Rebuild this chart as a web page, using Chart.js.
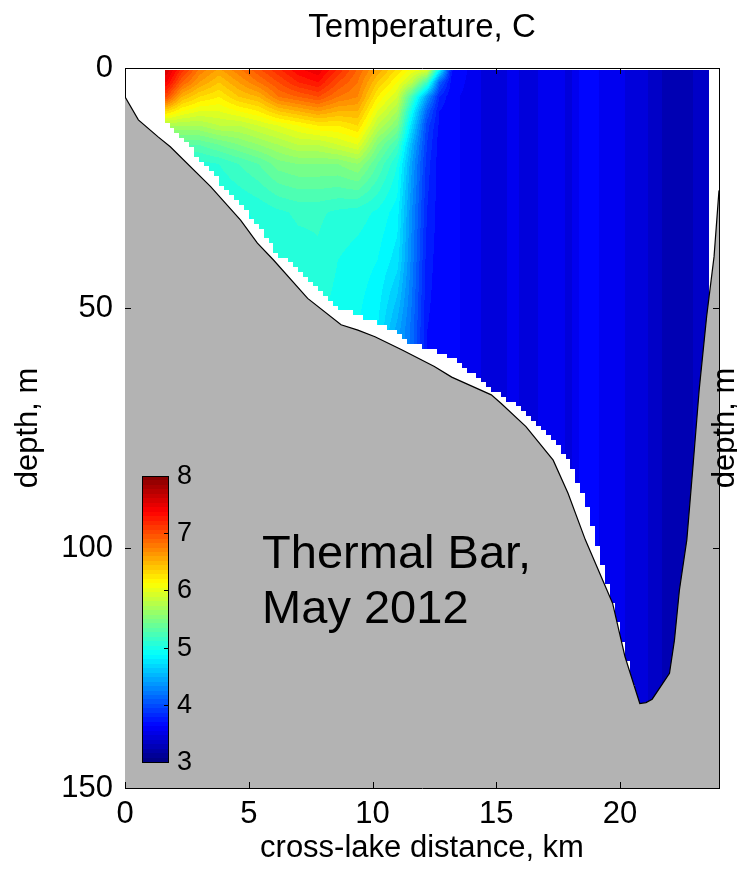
<!DOCTYPE html>
<html>
<head>
<meta charset="utf-8">
<title>Temperature, C</title>
<script src="https://cdn.jsdelivr.net/npm/chart.js@4.4.1/dist/chart.umd.min.js"></script>
<style>
  html, body { margin: 0; padding: 0; background: #fff; }
  #wrap { width: 737px; height: 875px; }
</style>
</head>
<body>
<div id="wrap"><canvas id="ct-chart" width="737" height="875"></canvas></div>
<script>
// CTD stations along the transect (km) and the depths each profile is given at (m)
var stationKm = [1.7, 2.3, 3.0, 3.8, 4.6, 5.4, 6.2, 7.0, 7.8, 8.6, 9.4, 10.2, 11.0, 11.6, 12.2,
  12.7, 13.2, 14.0, 14.8, 15.6, 16.4, 17.2, 18.0, 18.6, 19.4, 20.2, 21.0, 21.8, 22.6, 23.6];
var depthLevels = [0, 3, 6, 9, 12, 16, 20, 30, 40, 55, 80, 110, 135];

// deepest sample of each cast (m)
var castDepth = [11, 14, 19, 23.5, 28, 33, 39, 41.5, 46, 50, 51.5, 53, 55, 57.5, 58.3,
  59, 60.5, 63.5, 67, 69.5, 73, 76.5, 82.5, 90, 105, 121, 140, 140, 140, 140];

// temperature (C), one row per station, one value per depth level
var tempProfiles = [
  [7.6, 7.4, 7.0, 6.3, 5.7, 5.3, 5.05, 4.95, 4.95, 4.95, 4.95, 4.95, 4.95],
  [7.2, 6.9, 6.5, 6.1, 5.7, 5.3, 5.0, 4.9, 4.9, 4.9, 4.9, 4.9, 4.9],
  [6.8, 6.6, 6.3, 6.0, 5.7, 5.3, 5.05, 4.92, 4.9, 4.9, 4.9, 4.9, 4.9],
  [6.6, 6.4, 6.2, 6.0, 5.8, 5.4, 5.1, 4.95, 4.92, 4.92, 4.92, 4.92, 4.92],
  [6.8, 6.6, 6.4, 6.1, 5.8, 5.5, 5.2, 4.98, 4.95, 4.95, 4.95, 4.95, 4.95],
  [7.0, 6.8, 6.5, 6.2, 5.9, 5.6, 5.3, 5.02, 4.97, 4.95, 4.95, 4.95, 4.95],
  [7.2, 7.0, 6.8, 6.4, 6.0, 5.7, 5.45, 5.08, 5.0, 4.97, 4.97, 4.97, 4.97],
  [7.4, 7.2, 6.9, 6.5, 6.1, 5.8, 5.5, 5.12, 5.05, 4.98, 4.98, 4.98, 4.98],
  [7.5, 7.3, 7.0, 6.6, 6.2, 5.8, 5.5, 5.12, 5.08, 5.0, 5.0, 5.0, 5.0],
  [7.2, 7.0, 6.8, 6.5, 6.2, 5.9, 5.5, 5.08, 5.0, 4.95, 4.95, 4.95, 4.95],
  [6.9, 6.8, 6.7, 6.5, 6.3, 6.0, 5.6, 5.05, 4.95, 4.9, 4.9, 4.9, 4.9],
  [6.6, 6.4, 6.2, 6.0, 5.8, 5.5, 5.3, 4.98, 4.9, 4.8, 4.8, 4.8, 4.8],
  [6.3, 6.1, 5.9, 5.7, 5.5, 5.2, 5.0, 4.85, 4.75, 4.45, 4.45, 4.45, 4.45],
  [6.1, 5.8, 5.2, 4.9, 4.7, 4.5, 4.4, 4.3, 4.25, 4.15, 4.15, 4.15, 4.15],
  [6.1, 5.2, 4.4, 4.1, 3.95, 3.9, 3.85, 3.8, 3.75, 3.7, 3.7, 3.7, 3.7],
  [5.0, 4.1, 3.8, 3.7, 3.68, 3.65, 3.65, 3.65, 3.65, 3.65, 3.65, 3.65, 3.65],
  [3.72, 3.66, 3.62, 3.62, 3.62, 3.62, 3.62, 3.62, 3.62, 3.62, 3.62, 3.62, 3.62],
  [3.57, 3.57, 3.57, 3.57, 3.57, 3.57, 3.57, 3.57, 3.57, 3.57, 3.57, 3.57, 3.57],
  [3.43, 3.43, 3.43, 3.43, 3.43, 3.43, 3.43, 3.43, 3.43, 3.43, 3.43, 3.43, 3.43],
  [3.52, 3.52, 3.52, 3.52, 3.52, 3.52, 3.52, 3.52, 3.52, 3.52, 3.52, 3.52, 3.52],
  [3.47, 3.47, 3.47, 3.47, 3.47, 3.47, 3.47, 3.47, 3.47, 3.47, 3.47, 3.47, 3.47],
  [3.55, 3.55, 3.55, 3.55, 3.55, 3.55, 3.55, 3.55, 3.55, 3.55, 3.55, 3.55, 3.55],
  [3.48, 3.48, 3.48, 3.48, 3.48, 3.48, 3.48, 3.48, 3.48, 3.48, 3.48, 3.48, 3.48],
  [3.7, 3.7, 3.7, 3.7, 3.7, 3.7, 3.7, 3.7, 3.7, 3.7, 3.7, 3.7, 3.7],
  [3.55, 3.55, 3.55, 3.55, 3.55, 3.55, 3.55, 3.55, 3.55, 3.55, 3.55, 3.55, 3.55],
  [3.5, 3.5, 3.5, 3.5, 3.5, 3.5, 3.5, 3.5, 3.5, 3.5, 3.5, 3.5, 3.5],
  [3.42, 3.42, 3.42, 3.42, 3.42, 3.42, 3.42, 3.42, 3.42, 3.42, 3.42, 3.42, 3.42],
  [3.28, 3.28, 3.28, 3.28, 3.28, 3.28, 3.28, 3.28, 3.28, 3.28, 3.28, 3.28, 3.28],
  [3.26, 3.26, 3.26, 3.26, 3.26, 3.26, 3.26, 3.26, 3.26, 3.26, 3.26, 3.26, 3.26],
  [3.38, 3.38, 3.38, 3.38, 3.38, 3.38, 3.38, 3.38, 3.38, 3.38, 3.38, 3.38, 3.38]
];

// lake bottom
var bathyKm = [0, 0.54, 1.35, 1.83, 3.46, 4.67, 5.35, 6.0, 7.38, 8.73, 9.41, 10.1, 11.2, 12.5,
  13.2, 14.8, 15.2, 16.2, 17.3, 17.9, 18.6, 19.7, 20.2, 20.8, 21.05, 21.3, 22.0, 22.2, 22.4,
  22.7, 22.96, 23.2, 23.5, 23.8, 24.0];
var bathyDepth = [6, 10.8, 14.4, 16.4, 24.7, 31.7, 36.5, 40, 48, 53.5, 54.6, 56, 58.75, 62.2,
  64.4, 68.1, 69.9, 74.7, 81.7, 88.6, 98.3, 111.5, 122.6, 132.4, 132.2, 131.5, 126.1, 119.2, 108.8,
  98.3, 82.3, 67, 51.8, 39.3, 25.5];

var xTicks = [0, 5, 10, 15, 20];
var yTicks = [0, 50, 100, 150];
var colorTicks = [3, 4, 5, 6, 7, 8];
var noteLines = ["Thermal Bar,", "May 2012"];

var FONT = '"Liberation Sans", Arial, Helvetica, sans-serif';
var tempMin = 3, tempMax = 8, tempStep = 0.1;

function jet(t) {
  t = Math.max(0, Math.min(1, t));
  var c = function (v) { return Math.round(255 * Math.max(0, Math.min(1, v))); };
  return [c(1.5 - Math.abs(4 * t - 3)), c(1.5 - Math.abs(4 * t - 2)), c(1.5 - Math.abs(4 * t - 1))];
}

function interp1(xs, ys, x) {
  if (x <= xs[0]) return ys[0];
  for (var i = 1; i < xs.length; i++) {
    if (x <= xs[i]) {
      var f = (x - xs[i - 1]) / (xs[i] - xs[i - 1]);
      return ys[i - 1] + f * (ys[i] - ys[i - 1]);
    }
  }
  return ys[ys.length - 1];
}

function tempAt(km, depth) {
  var i = 0;
  while (i < stationKm.length - 2 && km > stationKm[i + 1]) i++;
  var f = (km - stationKm[i]) / (stationKm[i + 1] - stationKm[i]);
  f = Math.max(0, Math.min(1, f));
  var a = interp1(depthLevels, tempProfiles[i], depth),
    b = interp1(depthLevels, tempProfiles[i + 1], depth);
  return a + f * (b - a);
}

// filled temperature section, drawn under the lake bottom
var sectionPlugin = {
  id: "section",
  beforeDatasetsDraw: function (chart) {
    var area = chart.chartArea, xs = chart.scales.x, ys = chart.scales.y;
    var w = Math.round(area.right - area.left), h = Math.round(area.bottom - area.top);
    var off = document.createElement("canvas");
    off.width = w; off.height = h;
    var octx = off.getContext("2d"), img = octx.createImageData(w, h);
    var kmStart = stationKm[0] - 0.08, kmEnd = stationKm[stationKm.length - 1];
    for (var px = 0; px < w; px++) {
      var km = xs.getValueForPixel(area.left + px + 0.5);
      if (km < kmStart || km > kmEnd) continue;
      var kmCell = (Math.floor(km / 0.2) + 0.5) * 0.2;
      var bottom = interp1(stationKm, castDepth, kmCell);
      for (var py = 0; py < h; py++) {
        var depth = ys.getValueForPixel(area.top + py + 0.5);
        if (depth < 0.4 || Math.round(depth) > bottom) continue;
        var T = tempAt(km, depth);
        var level = Math.floor(T / tempStep) * tempStep + tempStep / 2;
        var rgb = jet((level - tempMin) / (tempMax - tempMin));
        var k = (py * w + px) * 4;
        img.data[k] = rgb[0]; img.data[k + 1] = rgb[1]; img.data[k + 2] = rgb[2]; img.data[k + 3] = 255;
      }
    }
    octx.putImageData(img, 0, 0);
    chart.ctx.drawImage(off, area.left, area.top);
  }
};

// colorbar, inward ticks, note and right-hand label
var decorPlugin = {
  id: "decor",
  afterDraw: function (chart) {
    var ctx = chart.ctx, area = chart.chartArea, xs = chart.scales.x, ys = chart.scales.y;
    ctx.save();
    ctx.strokeStyle = "#000";
    ctx.lineWidth = 1;

    // inward tick marks on all four sides
    var tl = 6;
    ctx.beginPath();
    xTicks.forEach(function (v) {
      var x = Math.round(xs.getPixelForValue(v)) + 0.5;
      ctx.moveTo(x, area.bottom); ctx.lineTo(x, area.bottom - tl);
      ctx.moveTo(x, area.top); ctx.lineTo(x, area.top + tl);
    });
    yTicks.forEach(function (v) {
      var y = Math.round(ys.getPixelForValue(v)) + 0.5;
      ctx.moveTo(area.left, y); ctx.lineTo(area.left + tl, y);
      ctx.moveTo(area.right, y); ctx.lineTo(area.right - tl, y);
    });
    ctx.stroke();

    // colorbar
    var cbL = Math.round(xs.getPixelForValue(0.69)), cbR = Math.round(xs.getPixelForValue(1.74)),
      cbT = Math.round(ys.getPixelForValue(85)), cbB = Math.round(ys.getPixelForValue(144.6));
    for (var r = cbT; r < cbB; r++) {
      var t = 1 - (r - cbT + 0.5) / (cbB - cbT);
      var rgb = jet(Math.floor(t * 64) / 64 + 1 / 128);
      ctx.fillStyle = "rgb(" + rgb.join(",") + ")";
      ctx.fillRect(cbL, r, cbR - cbL, 1);
    }
    ctx.strokeRect(cbL + 0.5, cbT + 0.5, cbR - cbL, cbB - cbT);
    ctx.fillStyle = "#000";
    ctx.font = "27px " + FONT;
    ctx.textAlign = "left";
    ctx.textBaseline = "middle";
    ctx.beginPath();
    colorTicks.forEach(function (v) {
      var y = Math.round(cbB - (v - tempMin) / (tempMax - tempMin) * (cbB - cbT)) + 0.5;
      ctx.moveTo(cbR, y); ctx.lineTo(cbR - 4, y);
      ctx.fillText(String(v), cbR + 9, y);
    });
    ctx.stroke();

    // note
    ctx.font = "47px " + FONT;
    ctx.textBaseline = "alphabetic";
    ctx.fillText(noteLines[0], xs.getPixelForValue(5.54), ys.getPixelForValue(104.2));
    ctx.fillText(noteLines[1], xs.getPixelForValue(5.54), ys.getPixelForValue(115.6));

    // right axis label
    ctx.font = "31px " + FONT;
    ctx.textAlign = "center";
    ctx.textBaseline = "middle";
    ctx.translate(area.right + 6, (area.top + area.bottom) / 2);
    ctx.rotate(-Math.PI / 2);
    ctx.fillText("depth, m", 0, 0);
    ctx.restore();
  }
};

var tickFont = { family: FONT, size: 31 };

new Chart(document.getElementById("ct-chart"), {
  type: "line",
  data: {
    datasets: [{
      label: "lake bottom",
      data: bathyKm.map(function (k, i) { return { x: k, y: bathyDepth[i] }; }),
      borderColor: "#000",
      borderWidth: 1.2,
      backgroundColor: "#b3b3b3",
      fill: { value: 150 },
      pointRadius: 0,
      tension: 0
    }]
  },
  options: {
    responsive: false,
    animation: false,
    events: [],
    layout: { padding: 0 },
    plugins: { legend: { display: false }, tooltip: { enabled: false } },
    scales: {
      x: {
        type: "linear", position: "bottom", min: 0, max: 24, z: 1,
        grid: { display: false, drawTicks: false },
        border: { display: true, color: "#000", width: 1 },
        afterBuildTicks: function (s) { s.ticks = xTicks.map(function (v) { return { value: v }; }); },
        afterFit: function (s) { s.height = 87; },
        ticks: { font: tickFont, color: "#000", padding: 8, maxRotation: 0 },
        title: { display: true, text: "cross-lake distance, km", font: tickFont, color: "#000", padding: { bottom: 8 } }
      },
      xTop: {
        type: "linear", position: "top", min: 0, max: 24, z: 1,
        grid: { display: false, drawTicks: false },
        border: { display: true, color: "#000", width: 1 },
        afterFit: function (s) { s.height = 68; },
        ticks: { display: false },
        title: { display: true, text: "Temperature, C", font: { family: FONT, size: 33 }, color: "#000", padding: { top: 8 } }
      },
      y: {
        type: "linear", position: "left", reverse: true, min: 0, max: 150, z: 1,
        grid: { display: false, drawTicks: false },
        border: { display: true, color: "#000", width: 1 },
        afterBuildTicks: function (s) { s.ticks = yTicks.map(function (v) { return { value: v }; }); },
        afterFit: function (s) { s.width = 125; },
        ticks: { font: tickFont, color: "#000", padding: 12 },
        title: { display: true, text: "depth, m", font: tickFont, color: "#000", padding: { top: 10 } }
      },
      yRight: {
        type: "linear", position: "right", reverse: true, min: 0, max: 150, z: 1,
        grid: { display: false, drawTicks: false },
        border: { display: true, color: "#000", width: 1 },
        afterFit: function (s) { s.width = 18; },
        ticks: { display: false }
      }
    }
  },
  plugins: [sectionPlugin, decorPlugin]
});
</script>
</body>
</html>
